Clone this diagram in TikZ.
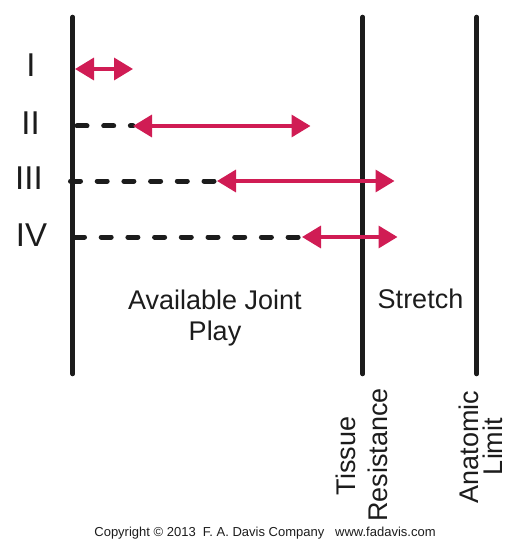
\documentclass[tikz,border=0pt]{standalone}
\usepackage{fontspec}
\setmainfont{Liberation Sans}
\usetikzlibrary{arrows.meta}
\definecolor{playred}{RGB}{208,28,84}
\definecolor{ink}{RGB}{28,28,28}
\tikzset{
  bar/.style={draw=ink, line width=4.5pt, line cap=round},
  slack/.style={draw=ink, line width=5pt, line cap=round, dash pattern=on 10pt off 16.7pt},
  playarrow/.style={draw=playred, line width=3.5pt,
    {Triangle[length=19pt,width=22pt]}-{Triangle[length=19pt,width=22pt]}},
  numeral/.style={anchor=base, inner sep=0pt, font=\fontsize{33}{38}\selectfont, text=ink},
  label/.style={anchor=base, inner sep=0pt, font=\fontsize{27}{31}\selectfont, text=ink},
  rlabel/.style={anchor=base, inner sep=0pt, rotate=90, font=\fontsize{27}{31}\selectfont, text=ink},
}
\begin{document}
\begin{tikzpicture}[x=1pt, y=-1pt]
\useasboundingbox (0,0) rectangle (522,556);
% vertical limits
\coordinate (Ltop) at (72.7,17);   \coordinate (Lbot) at (72.7,374);
\coordinate (Mtop) at (362.7,17);  \coordinate (Mbot) at (362.7,374);
\coordinate (Rtop) at (476.7,17);  \coordinate (Rbot) at (476.7,374);
\draw[bar] (Ltop) -- (Lbot);
\draw[bar] (Mtop) -- (Mbot);
\draw[bar] (Rtop) -- (Rbot);
% row coordinates
\coordinate (a1) at (75,69);    \coordinate (b1) at (133,69);
\coordinate (s2) at (77,126);   \coordinate (a2) at (133,126);  \coordinate (b2) at (310.5,126);
\coordinate (s3) at (70.5,181); \coordinate (a3) at (217,181);  \coordinate (b3) at (394.5,181);
\coordinate (s4) at (74.5,237); \coordinate (a4) at (302,237);  \coordinate (b4) at (397.5,237);
% slack (dashed)
\draw[slack] (s2) -- (a2);
\draw[slack] (s3) -- (a3);
\draw[slack] (s4) -- (a4);
% play arrows
\draw[playarrow] (a1) -- (b1);
\draw[playarrow] (a2) -- (b2);
\draw[playarrow] (a3) -- (b3);
\draw[playarrow] (a4) -- (b4);
% numerals
\node[numeral] (n1) at (31,76.5) {I};
\node[numeral] (n2) at (30.5,135) {II};
\node[numeral] (n3) at (29,189) {III};
\node[numeral] (n4) at (31.5,246) {IV};
% labels
\node[label] (ajp1) at (215,309) {Available Joint};
\node[label] (ajp2) at (215,340) {Play};
\node[label] (str) at (420.5,308) {Stretch};
\node[rlabel] (tr1) at (355,456) {Tissue};
\node[rlabel] (tr2) at (387,455) {Resistance};
\node[rlabel] (al1) at (478,447) {Anatomic};
\node[rlabel] (al2) at (502,446.5) {Limit};
\node[anchor=base, inner sep=0pt, font=\fontsize{13}{15}\selectfont, text=ink] (copy) at (265,536.7)
  {Copyright © 2013\ \ F. A. Davis Company\ \ \ www.fadavis.com};
\end{tikzpicture}
\end{document}
